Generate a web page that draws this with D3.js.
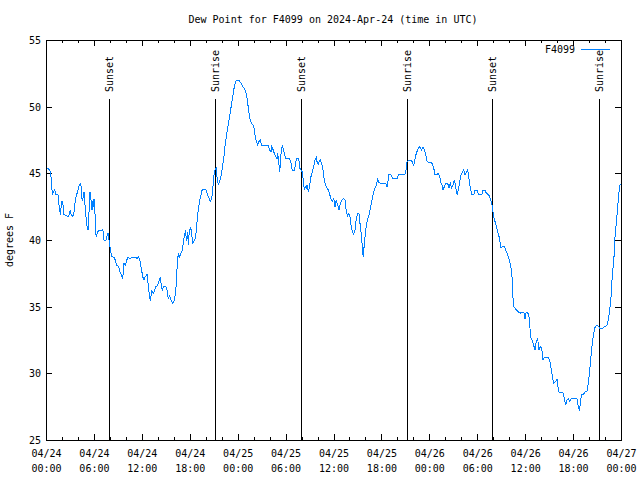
<!DOCTYPE html>
<html>
<head>
<meta charset="utf-8">
<script src="https://cdn.jsdelivr.net/npm/d3@7"></script>
<style>
  html, body { margin: 0; padding: 0; background: #fff; }
  svg { display: block; }
  text { font-family: "DejaVu Sans Mono", "Liberation Mono", monospace; font-size: 10px; fill: #000; }
</style>
</head>
<body>
<svg id="chart" width="640" height="480"></svg>
<script>
// ---- data ----
const title = "Dew Point for F4099 on 2024-Apr-24 (time in UTC)";
const yLabel = "degrees F";
const seriesName = "F4099";
const startUTC = "2024-04-24T00:00:00Z";
const endUTC = "2024-04-27T00:00:00Z";
const yTicks = [25, 30, 35, 40, 45, 50, 55];
const xLabelHours = [0, 6, 12, 18, 24, 30, 36, 42, 48, 54, 60, 66, 72];
const sunLabels = ["Sunset", "Sunrise", "Sunset", "Sunrise", "Sunset", "Sunrise"];
const sunHours = [7.93, 21.19, 31.97, 45.24, 55.89, 69.28];

// hours since 2024-04-24 00:00 UTC
const hours = [
 0.00,0.25,0.50,0.66,0.75,0.84,0.91,1.09,1.25,1.50,1.59,1.67,1.84,1.92,2.09,2.25,2.67,2.84,3.01,3.17,
 3.34,3.51,3.67,3.84,4.01,4.17,4.35,4.42,4.51,4.60,4.67,4.76,4.85,5.01,5.10,5.26,5.35,5.42,5.51,5.60,
 5.76,5.85,5.92,6.01,6.10,6.17,6.26,6.35,6.42,6.60,6.92,7.10,7.18,7.26,7.51,7.60,7.76,7.85,8.01,8.10,
 8.26,8.60,8.68,8.85,9.10,9.27,9.43,9.60,9.77,9.93,10.11,10.27,10.52,10.77,11.27,11.43,11.61,11.77,11.93,12.11,
 12.27,12.43,12.65,12.90,13.06,13.24,13.40,13.56,13.74,13.99,14.15,14.31,14.40,14.56,14.74,14.99,15.15,15.31,15.49,15.65,
 15.90,16.07,16.24,16.32,16.40,16.49,16.57,16.74,16.90,17.07,17.24,17.41,17.49,17.57,17.66,17.74,17.82,17.91,18.07,18.24,
 18.32,18.50,18.66,18.82,18.91,19.07,19.25,19.41,19.57,20.00,20.16,20.32,20.50,20.57,20.75,20.91,21.00,21.16,21.33,21.41,
 21.58,21.75,21.91,22.08,22.25,22.41,22.58,22.75,22.92,23.08,23.25,23.42,23.58,23.75,23.92,24.17,24.42,24.67,24.92,25.08,
 25.26,25.42,25.58,25.76,26.01,26.17,26.33,26.51,26.67,26.84,27.01,27.84,28.01,28.17,28.26,28.42,28.59,28.76,28.93,29.01,
 29.09,29.18,29.26,29.34,29.43,29.59,29.68,29.84,30.02,30.52,30.68,30.84,31.09,31.27,31.34,31.59,31.68,31.77,31.93,32.09,
 32.27,32.34,32.43,32.60,32.68,32.85,33.02,33.18,33.35,33.52,33.68,33.85,33.93,34.10,34.19,34.35,34.52,34.69,34.85,35.02,
 35.19,35.35,35.53,35.69,35.85,36.03,36.19,36.35,36.53,36.69,36.85,37.03,37.28,37.44,37.60,37.78,37.85,38.03,38.19,38.36,
 38.53,38.69,38.86,39.03,39.19,39.36,39.53,39.61,39.73,39.86,40.03,40.20,40.36,40.53,40.70,40.86,41.04,41.20,41.36,41.54,
 41.70,41.86,42.54,42.70,42.79,42.95,43.20,43.45,43.95,44.20,44.95,45.12,45.21,45.37,45.79,46.04,46.21,46.37,46.54,46.71,
 46.87,47.05,47.21,47.37,47.55,47.71,47.87,48.21,48.37,48.55,48.71,48.96,49.12,49.30,49.46,49.63,49.71,49.88,50.05,50.30,
 50.46,50.63,50.80,50.96,51.13,51.30,51.47,51.63,51.80,51.97,52.13,52.30,52.47,52.63,52.81,52.97,53.13,53.31,53.56,53.72,
 53.97,54.13,54.56,54.72,54.97,55.14,55.39,55.56,55.72,55.89,55.97,56.06,56.22,56.39,56.56,56.73,56.89,56.98,57.14,57.39,
 57.56,57.73,57.89,58.07,58.23,58.39,58.48,58.57,58.73,58.89,59.14,59.39,59.57,59.82,59.98,60.14,60.32,60.48,60.57,60.64,
 60.86,61.02,61.23,61.40,61.57,61.73,61.90,62.07,62.23,62.40,62.90,63.07,63.24,63.40,63.58,63.83,63.99,64.08,64.24,64.74,
 64.90,65.08,65.24,65.40,65.58,65.74,66.49,66.66,66.83,66.91,67.08,67.33,67.49,67.74,67.91,68.08,68.24,68.41,68.58,68.75,
 68.91,69.16,69.33,69.75,69.91,70.25,70.41,70.59,70.75,70.84,71.00,71.16,71.25,71.41,71.59,71.75,71.84,71.94
];
const dewF = [
 45.4,45.4,45.2,44.6,43.75,43.4,43.6,43.75,43.4,43.4,43.0,42.25,41.9,42.9,42.9,41.9,41.8,41.75,42.2,41.9,
 41.75,42.1,43.0,43.4,43.75,44.1,44.25,43.9,43.1,42.9,43.4,43.6,42.9,41.75,41.1,40.75,41.5,42.6,43.6,43.25,
 42.25,42.9,42.5,43.1,42.4,41.5,40.4,40.25,40.6,40.7,40.7,40.8,40.5,40.0,40.0,40.2,40.5,40.2,39.5,39.1,
 38.75,38.7,38.4,38.1,38.0,37.6,37.4,37.1,38.25,38.1,38.5,38.7,38.6,38.7,38.7,38.6,38.75,38.4,37.9,37.25,
 37.0,37.25,37.4,36.1,35.4,36.25,36.0,36.1,36.5,36.6,36.9,37.2,36.75,36.25,36.55,36.55,36.25,35.6,35.8,35.5,
 35.25,35.5,36.1,36.9,37.75,38.5,39.0,38.75,39.0,39.25,40.0,40.5,40.75,39.9,40.25,40.6,39.6,40.4,40.9,40.75,
 39.75,39.9,40.1,40.6,41.4,42.25,43.0,43.4,43.8,43.8,43.5,43.25,43.0,42.9,43.1,44.0,44.75,45.25,45.4,44.75,
 44.1,44.4,44.75,45.4,46.1,47.0,47.75,48.4,49.0,49.6,50.25,50.9,51.5,51.9,52.0,51.95,51.75,51.5,51.25,51.0,
 50.25,49.5,49.0,48.75,48.55,47.9,47.4,47.1,47.4,47.5,47.1,47.1,46.75,46.6,47.0,46.8,46.5,46.25,46.1,46.5,
 46.1,45.6,45.1,45.6,46.5,47.1,46.9,46.5,46.1,46.1,45.75,45.2,45.2,45.75,46.1,46.1,45.9,45.4,45.25,45.1,
 44.25,43.75,44.0,43.9,44.1,43.6,44.1,44.75,45.1,45.5,46.0,46.2,45.9,45.6,45.9,46.0,45.75,45.25,44.5,44.1,
 43.9,43.75,43.4,43.1,42.9,43.1,42.5,43.0,42.6,42.25,42.75,43.0,43.1,43.0,42.1,41.75,42.0,41.9,41.1,40.6,
 40.45,40.75,41.6,42.0,42.0,41.0,40.25,39.25,38.7,39.75,40.75,41.4,41.7,42.1,42.6,43.1,43.6,43.9,44.1,44.55,
 44.3,44.25,44.25,43.95,44.25,44.95,44.9,44.6,44.6,44.95,44.95,45.3,45.9,45.95,45.95,45.6,46.1,46.5,46.75,47.0,
 46.9,46.75,47.0,46.8,46.4,45.9,45.85,45.85,45.7,45.4,44.9,44.9,45.0,44.75,44.3,44.1,43.75,44.0,44.25,44.25,
 43.9,44.25,43.9,44.1,44.5,44.0,43.4,43.75,44.4,44.9,45.1,45.25,44.9,45.1,45.25,44.6,43.9,43.4,43.4,43.75,
 43.75,43.45,43.4,43.75,43.75,43.5,43.4,43.25,42.9,42.5,42.1,41.75,41.4,41.05,40.6,40.25,39.75,39.4,39.5,39.5,
 39.25,39.0,38.75,38.4,37.9,37.0,35.6,35.0,34.9,34.75,34.6,34.5,34.6,34.6,34.1,34.6,34.55,34.25,34.0,32.8,
 32.5,32.2,31.75,32.4,32.6,31.75,32.0,31.9,31.0,31.2,31.2,31.0,30.4,29.8,29.25,29.4,29.55,29.1,28.6,28.55,
 28.1,27.6,28.0,28.1,27.9,28.1,28.1,27.5,27.2,27.95,28.4,28.45,28.6,28.65,29.25,30.25,31.25,32.25,33.0,33.45,
 33.6,33.55,33.4,33.4,33.5,33.6,34.0,34.75,35.75,36.75,37.9,39.0,40.25,41.25,42.5,43.6,44.1,44.2
];

// ---- layout ----
const plotL = 46, plotR = 621, plotT = 40, plotB = 440;
const HOUR = 3600e3;
const t0 = new Date(startUTC);
const toDate = h => new Date(t0.getTime() + h * HOUR);

const svg = d3.select("#chart");
const x = d3.scaleUtc().domain([t0, new Date(endUTC)]).range([plotL, plotR]);
const y = d3.scaleLinear().domain([25, 55]).range([plotB, plotT]);

const n = Math.min(hours.length, dewF.length);
const data = d3.range(n).map(i => ({ t: toDate(hours[i]), v: dewF[i] }));

const minorTicks = d3.range(0, 73, 2).filter(h => h % 6 !== 0).map(toDate);
const majorTicks = xLabelHours.map(toDate);

function styleAxis(g) {
  g.select(".domain").remove();
  g.selectAll(".tick line").attr("stroke", "#000").attr("shape-rendering", "crispEdges");
}

// minor ticks bottom/top
svg.append("g").attr("transform", `translate(0,${plotB})`)
  .call(d3.axisBottom(x).tickValues(minorTicks).tickSize(-3).tickFormat(""))
  .call(styleAxis);
svg.append("g").attr("transform", `translate(0,${plotT})`)
  .call(d3.axisTop(x).tickValues(minorTicks).tickSize(-3).tickFormat(""))
  .call(styleAxis);

// major bottom axis with 2-line labels
const fmtDate = d3.utcFormat("%m/%d"), fmtTime = d3.utcFormat("%H:%M");
const xb = svg.append("g").attr("transform", `translate(0,${plotB})`)
  .call(d3.axisBottom(x).tickValues(majorTicks).tickSize(-6).tickPadding(0).tickFormat(""))
  .call(styleAxis);
xb.selectAll(".tick text").remove();
xb.selectAll(".tick").append("text")
  .attr("text-anchor", "middle").attr("y", 17)
  .text(d => fmtDate(d));
xb.selectAll(".tick").append("text")
  .attr("text-anchor", "middle").attr("y", 32)
  .text(d => fmtTime(d));
svg.append("g").attr("transform", `translate(0,${plotT})`)
  .call(d3.axisTop(x).tickValues(majorTicks).tickSize(-6).tickFormat(""))
  .call(styleAxis);

// y axes
const yl = svg.append("g").attr("transform", `translate(${plotL},0)`)
  .call(d3.axisLeft(y).tickValues(yTicks).tickSize(-6).tickPadding(0).tickFormat(""))
  .call(styleAxis);
yl.selectAll(".tick text").remove();
yl.selectAll(".tick").append("text")
  .attr("text-anchor", "end").attr("x", -5).attr("dy", "0.35em")
  .text(d => d);
svg.append("g").attr("transform", `translate(${plotR},0)`)
  .call(d3.axisRight(y).tickValues(yTicks).tickSize(-6).tickFormat(""))
  .call(styleAxis);

// sunrise / sunset markers
const sunG = svg.append("g");
sunHours.forEach((h, i) => {
  const sx = Math.round(x(toDate(h))) + 0.5;
  sunG.append("line")
    .attr("x1", sx).attr("x2", sx).attr("y1", 99).attr("y2", plotB)
    .attr("stroke", "#000").attr("stroke-width", 1);
  sunG.append("text")
    .attr("transform", `translate(${sx},92) rotate(-90)`)
    .attr("text-anchor", "start").attr("dy", "0.35em")
    .text(sunLabels[i]);
});

// data line
svg.append("path").datum(data)
  .attr("fill", "none").attr("stroke", "#0080ff").attr("stroke-width", 1)
  .attr("shape-rendering", "crispEdges")
  .attr("d", d3.line().x(d => x(d.t)).y(d => y(d.v)));

// border
svg.append("rect")
  .attr("x", plotL + 0.5).attr("y", plotT + 0.5)
  .attr("width", plotR - plotL).attr("height", plotB - plotT)
  .attr("fill", "none").attr("stroke", "#000").attr("shape-rendering", "crispEdges");

// title
svg.append("text").attr("x", 333).attr("y", 23).attr("text-anchor", "middle").text(title);

// y label
svg.append("text")
  .attr("transform", `translate(13,240) rotate(-90)`)
  .attr("text-anchor", "middle").text(yLabel);

// legend
svg.append("text").attr("x", 575).attr("y", 53).attr("text-anchor", "end").text(seriesName);
svg.append("line").attr("x1", 581).attr("x2", 610).attr("y1", 49.5).attr("y2", 49.5)
  .attr("stroke", "#0080ff").attr("stroke-width", 1);
</script>
</body>
</html>
